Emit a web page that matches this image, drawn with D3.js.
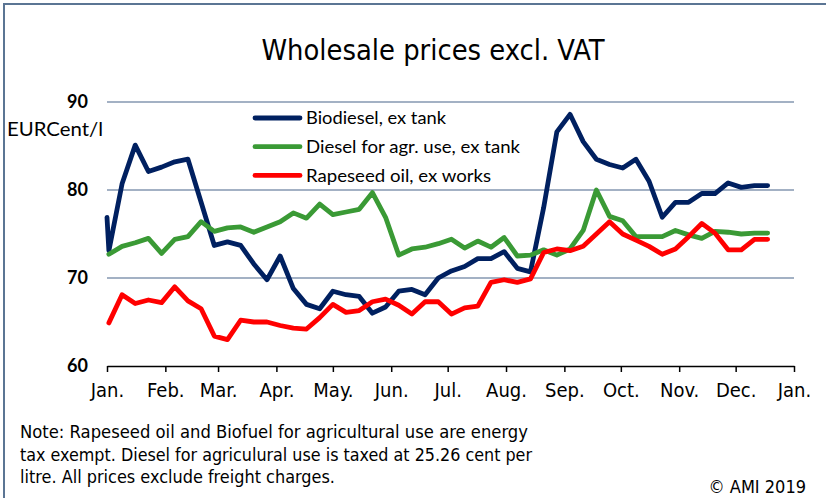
<!DOCTYPE html>
<html lang="en">

<head>
    <meta charset="UTF-8">
    <title>Wholesale prices excl. VAT</title>
    <script src="https://d3js.org/d3.v7.min.js"></script>
    <style>
      body { margin: 0; background: #fff; }
      text { fill: #000; }
    </style>
</head>

<body>
<svg></svg>

<script>
  // weekly prices, first week 2 Jan 2019
  const biodiesel = [73.1, 80.7, 85.1, 82.1, 82.6, 83.2, 83.5, 78.6, 73.7, 74.1,
    73.7, 71.6, 69.8, 72.5, 68.8, 67.0, 66.5, 68.5, 68.1, 67.9,
    66.0, 66.7, 68.5, 68.7, 68.1, 70.0, 70.8, 71.3, 72.2, 72.2,
    73.0, 71.1, 70.7, 78.0, 86.6, 88.6, 85.5, 83.5, 82.9, 82.5,
    83.5, 81.0, 76.9, 78.6, 78.6, 79.6, 79.6, 80.8, 80.3, 80.5, 80.5]
  const biodieselFirstDay = 76.9 // value on 1 Jan, just before the first week

  const diesel = [72.7, 73.6, 74.0, 74.5, 72.8, 74.4, 74.7, 76.4, 75.3, 75.7,
    75.8, 75.2, 75.8, 76.4, 77.4, 76.8, 78.4, 77.2, 77.5, 77.8,
    79.7, 76.9, 72.6, 73.3, 73.5, 73.9, 74.4, 73.4, 74.2, 73.5,
    74.6, 72.5, 72.6, 73.2, 72.6, 73.3, 75.4, 80.0, 77.0, 76.5,
    74.7, 74.7, 74.7, 75.4, 74.9, 74.5, 75.3, 75.2, 75.0, 75.1, 75.1]

  const rapeseed = [64.9, 68.1, 67.1, 67.5, 67.2, 69.0, 67.4, 66.5, 63.4, 63.0,
    65.2, 65.0, 65.0, 64.6, 64.3, 64.2, 65.5, 67.0, 66.1, 66.3,
    67.3, 67.6, 66.9, 65.9, 67.3, 67.3, 65.9, 66.6, 66.8, 69.5,
    69.8, 69.5, 69.9, 72.9, 73.3, 73.1, 73.6, 75.0, 76.4, 75.0,
    74.3, 73.6, 72.7, 73.3, 74.7, 76.2, 75.1, 73.2, 73.2, 74.4, 74.4]

  const monthLabels = ['Jan.', 'Feb.', 'Mar.', 'Apr.', 'May.', 'Jun.', 'Jul.',
    'Aug.', 'Sep.', 'Oct.', 'Nov.', 'Dec.', 'Jan.']
  const yTicks = [60, 70, 80, 90]
  const gridTicks = [70, 80, 90]

  const seriesNames = ['Biodiesel, ex tank', 'Diesel for agr. use, ex tank', 'Rapeseed oil, ex works']
  const seriesColors = ['#002060', '#3a9a35', '#ff0000']
  const legendWidths = [140, 214, 185]

  const noteLines = [
    'Note: Rapeseed oil and Biofuel for agricultural use are energy',
    'tax exempt. Diesel for agriculural use is taxed at 25.26 cent per',
    'litre.  All prices exclude freight charges.'
  ]
  const noteWidths = [508, 512, 315]

  const width = 826
  const height = 498
  const narrow = '"Liberation Sans Narrow", "DejaVu Sans Condensed", "Roboto", sans-serif'
  const normal = 'Lato, "Open Sans", sans-serif'

  const svg = d3.select('svg')
    .attr('width', width)
    .attr('height', height)

  // frame (only top and left edge are visible in the picture)
  svg.append('rect')
    .attr('x', 4).attr('y', 4)
    .attr('width', width + 20).attr('height', height + 20)
    .attr('fill', 'none')
    .attr('stroke', '#5b7594')
    .attr('stroke-width', 2)

  const weeks = d3.timeDay.range(new Date(2019, 0, 2), new Date(2019, 11, 19), 7)
  const months = d3.timeMonth.range(new Date(2019, 0, 1), new Date(2020, 0, 2))

  const x = d3.scaleTime()
    .domain([new Date(2019, 0, 1), new Date(2020, 0, 1)])
    .range([107, 794])

  const y = d3.scaleLinear()
    .domain([60, 90])
    .range([366, 102])

  // title
  svg.append('text')
    .attr('x', 433)
    .attr('y', 60)
    .attr('text-anchor', 'middle')
    .attr('font-family', narrow)
    .attr('font-size', 29)
    .attr('textLength', 343)
    .attr('lengthAdjust', 'spacingAndGlyphs')
    .text('Wholesale prices excl. VAT')

  // gridlines
  svg.append('g')
    .selectAll('line')
    .data(gridTicks)
    .join('line')
    .attr('x1', x.range()[0])
    .attr('x2', x.range()[1])
    .attr('y1', d => y(d))
    .attr('y2', d => y(d))
    .attr('stroke', '#8597b0')
    .attr('stroke-width', 1.5)

  // y labels
  const yAxis = svg.append('g')
    .attr('transform', 'translate(88,0)')
    .call(d3.axisLeft(y).tickValues(yTicks).tickSize(0).tickPadding(0))
  yAxis.select('.domain').remove()
  yAxis.selectAll('text')
    .attr('font-family', normal)
    .attr('font-size', 18)
    .attr('font-weight', 'bold')
    .attr('fill', '#000')

  svg.append('text')
    .attr('x', 7)
    .attr('y', 136)
    .attr('font-family', normal)
    .attr('font-size', 19)
    .attr('textLength', 96)
    .attr('lengthAdjust', 'spacingAndGlyphs')
    .text('EURCent/l')

  // x axis
  const xAxis = svg.append('g')
    .attr('transform', `translate(0,${y(60)})`)
    .call(d3.axisBottom(x)
      .tickValues(months)
      .tickFormat((d, i) => monthLabels[i])
      .tickSizeInner(6)
      .tickSizeOuter(0)
      .tickPadding(11))
  xAxis.select('.domain').attr('stroke', '#000').attr('stroke-width', 1.5)
  xAxis.selectAll('line').attr('stroke', '#000').attr('stroke-width', 1.5)
  xAxis.selectAll('text')
    .attr('font-family', narrow)
    .attr('font-size', 20)
    .attr('fill', '#000')

  // lines
  const line = d3.line()
    .x(d => x(d.date))
    .y(d => y(d.value))

  const toPoints = values => values.map((v, i) => ({ date: weeks[i], value: v }))
  const seriesData = [
    [{ date: new Date(2019, 0, 1), value: biodieselFirstDay }].concat(toPoints(biodiesel)),
    toPoints(diesel),
    toPoints(rapeseed)
  ]

  svg.append('g')
    .selectAll('path')
    .data(seriesData)
    .join('path')
    .attr('d', line)
    .attr('fill', 'none')
    .attr('stroke', (d, i) => seriesColors[i])
    .attr('stroke-width', 4.8)
    .attr('stroke-linejoin', 'round')
    .attr('stroke-linecap', 'round')

  // legend
  const legend = svg.append('g')
    .selectAll('g')
    .data(seriesNames)
    .join('g')
    .attr('transform', (d, i) => `translate(255,${118 + i * 28.7})`)

  legend.append('line')
    .attr('x1', 0).attr('x2', 45)
    .attr('stroke', (d, i) => seriesColors[i])
    .attr('stroke-width', 4.8)
    .attr('stroke-linecap', 'round')

  legend.append('text')
    .attr('x', 51)
    .attr('dy', '0.35em')
    .attr('font-family', normal)
    .attr('font-size', 18)
    .attr('textLength', (d, i) => legendWidths[i])
    .attr('lengthAdjust', 'spacingAndGlyphs')
    .text(d => d)

  // note
  svg.append('g')
    .selectAll('text')
    .data(noteLines)
    .join('text')
    .attr('x', 20)
    .attr('y', (d, i) => 438 + i * 22.5)
    .attr('font-family', narrow)
    .attr('font-size', 18)
    .attr('textLength', (d, i) => noteWidths[i])
    .attr('lengthAdjust', 'spacingAndGlyphs')
    .text(d => d)

  svg.append('text')
    .attr('x', 806)
    .attr('y', 493)
    .attr('text-anchor', 'end')
    .attr('font-family', narrow)
    .attr('font-size', 18)
    .text('© AMI 2019')
</script>

</body>

</html>
